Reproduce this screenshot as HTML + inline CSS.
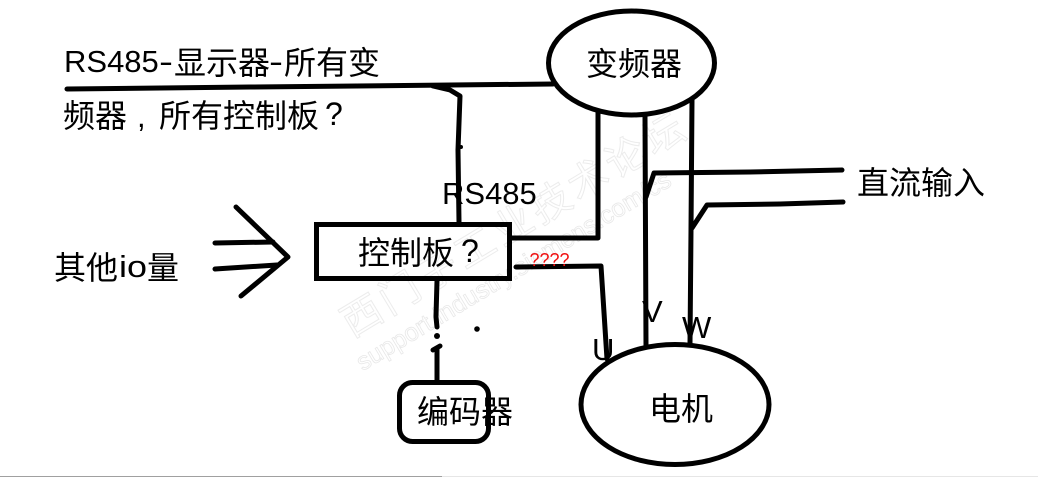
<!DOCTYPE html>
<html><head><meta charset="utf-8"><style>
html,body{margin:0;padding:0;background:#fff;width:1038px;height:477px;overflow:hidden}
svg{display:block}
text{font-family:"Liberation Sans","Noto Sans CJK SC",sans-serif;font-size:32px;fill:#000}
.lat{font-size:31px}
.l{fill:none;stroke:#000;stroke-width:5;stroke-linecap:round;stroke-linejoin:round}
</style></head><body>
<svg width="1038" height="477" viewBox="0 0 1038 477" xmlns="http://www.w3.org/2000/svg">
<rect width="1038" height="477" fill="#fff"/>
<rect x="0" y="476" width="442" height="1" fill="#a0a0a0"/>
<rect x="442" y="476" width="596" height="1" fill="#e6e6e6"/>
<!-- watermark -->
<g transform="translate(352,338) rotate(-31)">
<text x="0" y="0" style="font-size:40px;fill:#fff;stroke:#ececec;stroke-width:1;letter-spacing:4px">西门子工业技术论坛</text>
<text x="-8" y="34" style="font-size:25px;fill:#fff;stroke:#e8e8e8;stroke-width:.8">support.industry.siemens.com/cs</text>
</g>
<!-- shapes -->
<ellipse class="l" cx="631.5" cy="63" rx="83" ry="52"/>
<ellipse class="l" cx="675" cy="404.5" rx="94" ry="60"/>
<rect x="316.5" y="224.5" width="193" height="54" fill="none" stroke="#000" stroke-width="5"/>
<rect x="399.5" y="382.5" width="89" height="59" rx="13" fill="none" stroke="#000" stroke-width="5"/>
<!-- lines -->
<path class="l" d="M67 89 L250 87 L553 84"/>
<path class="l" d="M433 86 L450 90 L460 96 L458 150 L459 222"/>
<path class="l" d="M598 112 L598 238 L512 238"/>
<path class="l" d="M516 267 L601 266 L607 359"/>
<path class="l" d="M645 116 L646 346"/>
<path class="l" d="M692 100 L691 230 L690 344"/>
<path class="l" d="M646 197 L654 173 L750 172 L842 170"/>
<path class="l" d="M692 228 L707 205 L780 204 L843 202"/>
<path class="l" d="M236 207 L288 257 L241 296"/>
<path class="l" d="M215 243 L273 242"/>
<path class="l" d="M215 269 L277 265"/>
<path class="l" d="M437 281 L436 316"/>
<path class="l" d="M436 317 L437 327"/>
<circle cx="437" cy="336" r="3"/>
<path class="l" d="M433 350 L440 346 M437 348 L437 380"/>
<circle cx="477" cy="329" r="2.8"/>
<circle cx="461" cy="147" r="2"/>
<!-- text -->
<text class="lat" x="64" y="72">RS485</text>
<text class="lat" x="159" y="72" textLength="14" lengthAdjust="spacingAndGlyphs">-</text>
<text x="174" y="74">显示器</text>
<text class="lat" x="269" y="72" textLength="14" lengthAdjust="spacingAndGlyphs">-</text>
<text x="284" y="74">所有变</text>
<text x="63" y="127">频器</text>
<text class="lat" x="137" y="127">,</text>
<text x="159" y="127">所有控制板</text>
<text x="325" y="125">?</text>
<text class="lat" x="442" y="204">RS485</text>
<text x="358" y="264">控制板</text>
<text x="461" y="262">?</text>
<text x="586" y="75">变频器</text>
<text x="857" y="194">直流输入</text>
<text x="54" y="279">其他</text>
<text class="lat" x="119" y="277" textLength="28" lengthAdjust="spacingAndGlyphs">io</text>
<text x="147" y="279">量</text>
<text x="417" y="423">编码器</text>
<text x="649" y="420">电机</text>
<text class="lat" x="592" y="360">U</text>
<text class="lat" x="642" y="322">V</text>
<text class="lat" x="682" y="338">W</text>
<text x="529.5" y="266" style="font-size:18px;fill:#f01010">????</text>
</svg>
</body></html>
